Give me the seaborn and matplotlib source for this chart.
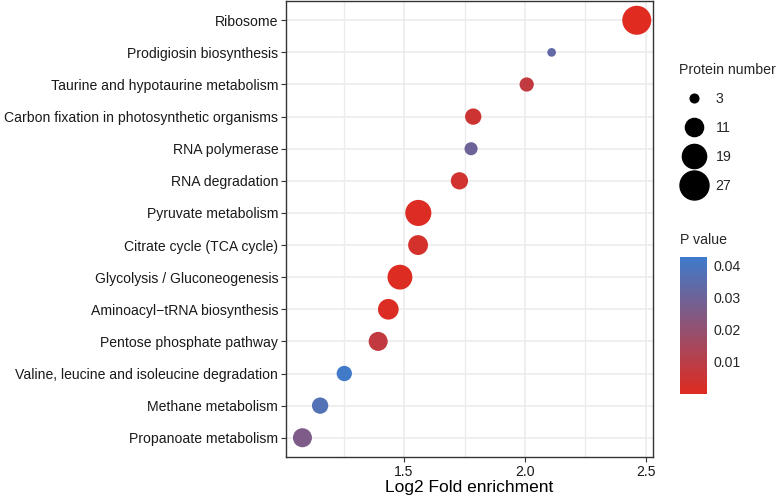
import matplotlib
matplotlib.use("Agg")
import matplotlib.pyplot as plt
from matplotlib.colors import LinearSegmentedColormap, Normalize
from matplotlib.lines import Line2D
import seaborn as sns
import pandas as pd
import numpy as np

pathways = [
    "Ribosome",
    "Prodigiosin biosynthesis",
    "Taurine and hypotaurine metabolism",
    "Carbon fixation in photosynthetic organisms",
    "RNA polymerase",
    "RNA degradation",
    "Pyruvate metabolism",
    "Citrate cycle (TCA cycle)",
    "Glycolysis / Gluconeogenesis",
    "Aminoacyl\u2212tRNA biosynthesis",
    "Pentose phosphate pathway",
    "Valine, leucine and isoleucine degradation",
    "Methane metabolism",
    "Propanoate metabolism",
]
fold_enrichment = [2.462, 2.110, 2.007, 1.786, 1.777, 1.729, 1.559, 1.558,
                   1.483, 1.435, 1.393, 1.253, 1.153, 1.080]
protein_number = [28, 3, 7, 9, 6, 10, 22, 13, 20, 14, 12, 8, 9, 12]
p_values = [0.0001, 0.033, 0.008, 0.005, 0.030, 0.004, 0.0008, 0.003,
            0.0005, 0.001, 0.008, 0.042, 0.037, 0.026]

size_breaks = [3, 11, 19, 27]
p_ticks = [0.01, 0.02, 0.03, 0.04]

df = pd.DataFrame({
    "pathway": pathways,
    "fold": fold_enrichment,
    "count": protein_number,
    "p": p_values,
})

sns.set_theme(style="whitegrid")
plt.rcParams["font.family"] = ["Liberation Sans", "DejaVu Sans"]

cmap = LinearSegmentedColormap.from_list("pv", ["#DF2B20", "#3E7BCB"])
p_norm = Normalize(vmin=0.0, vmax=0.0425)
size_norm = (3, 27)
size_range = (39, 436)

fig = plt.figure(figsize=(7.78, 5.0), dpi=100)
ax = fig.add_axes([0.3676, 0.086, 0.4717, 0.912])

sns.scatterplot(data=df, x="fold", y="pathway", hue="p", size="count",
                palette=cmap, hue_norm=p_norm, sizes=size_range,
                size_norm=size_norm, linewidth=0, alpha=1, ax=ax, legend=False)

ax.set_xlim(1.012, 2.529)
ax.set_ylim(len(pathways) - 1 + 0.6, -0.6)
ax.set_xticks([1.5, 2.0, 2.5])
ax.set_xticks([1.25, 1.75, 2.25], minor=True)
ax.set_xticklabels(["1.5", "2.0", "2.5"])
ax.grid(True, which="major", color="#EBEBEB", linewidth=1.1)
ax.grid(True, which="minor", axis="x", color="#EBEBEB", linewidth=0.9)
ax.set_axisbelow(True)
ax.set_facecolor("white")
for s in ax.spines.values():
    s.set_color("#333333")
    s.set_linewidth(1.0)
ax.tick_params(axis="both", which="major", length=3.5, width=0.8, color="#333333",
               labelsize=10.1, labelcolor="#1A1A1A", pad=2, bottom=True, left=True)
ax.tick_params(axis="x", which="minor", length=0)
ax.set_xlabel("Log2 Fold enrichment", fontsize=12.5, color="black", labelpad=1)
ax.set_ylabel("")

# size legend
handles = [Line2D([], [], linestyle="", marker="o", color="black",
                  markersize=np.sqrt(size_range[0] + (b - size_norm[0]) /
                                     (size_norm[1] - size_norm[0]) *
                                     (size_range[1] - size_range[0])))
           for b in size_breaks]
leg = fig.legend(handles, [str(b) for b in size_breaks], title="Protein number",
                 loc="upper left", bbox_to_anchor=(0.866, 0.885), frameon=False,
                 fontsize=10.2, title_fontsize=10.2, labelspacing=1.05,
                 handletextpad=0.55, borderaxespad=0)
leg._legend_box.align = "left"

# colour bar
fig.text(0.874, 0.505, "P value", fontsize=10.2, va="bottom", ha="left")
cax = fig.add_axes([0.874, 0.212, 0.0347, 0.274])
sm = plt.cm.ScalarMappable(norm=p_norm, cmap=cmap)
cb = fig.colorbar(sm, cax=cax, ticks=p_ticks)
cb.outline.set_visible(False)
cax.set_ylim(0.00005, 0.0425)
cax.tick_params(axis="y", direction="in", color="white", length=5, width=0.8,
                labelsize=10.2, left=True, right=True, pad=5)
cax.set_yticklabels(["0.01", "0.02", "0.03", "0.04"])

fig.savefig("out.png", dpi=100)
